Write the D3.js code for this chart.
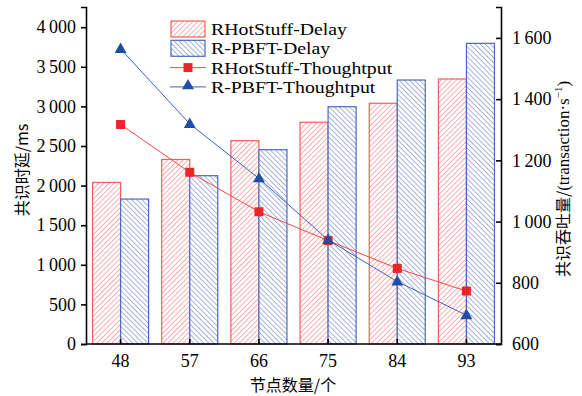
<!DOCTYPE html>
<html>
<head>
<meta charset="utf-8">
<script src="https://cdn.jsdelivr.net/npm/d3@7"></script>
<style>
  html, body { margin: 0; padding: 0; background: #fff; }
  svg { display: block; }
  text { font-family: "Liberation Serif", "DejaVu Serif", serif; }
  .cjk { font-family: "Noto Sans CJK SC", sans-serif; }
</style>
</head>
<body>
<svg id="chart" width="582" height="396"></svg>
<script>
  'use strict';

  const nodes = ['48', '57', '66', '75', '84', '93'];
  const hotDelay = [2040, 2330, 2567, 2800, 3040, 3346];
  const pbftDelay = [1830, 2125, 2453, 2996, 3333, 3796];
  const hotTput = [1317, 1161, 1032, 938, 847, 773];
  const pbftTput = [1564, 1319, 1141, 940, 804, 694];
  const leftTicks = [0, 500, 1000, 1500, 2000, 2500, 3000, 3500, 4000];
  const rightTicks = [600, 800, 1000, 1200, 1400, 1600];

  const RED = '#f0605a';
  const BLUE = '#4a68c0';

  const svg = d3.select('#chart');
  const margin = { top: 7, right: 81, bottom: 52, left: 86 };
  const width = 582, height = 396;
  const innerW = width - margin.left - margin.right;
  const innerH = height - margin.top - margin.bottom;

  const defs = svg.append('defs');
  function hatch(id, color, dir) {
    const p = defs.append('pattern')
      .attr('id', id)
      .attr('patternUnits', 'userSpaceOnUse')
      .attr('width', 3.6).attr('height', 3.6)
      .attr('patternTransform', 'rotate(' + dir + ')');
    p.append('rect').attr('width', 3.6).attr('height', 3.6).attr('fill', '#fff');
    p.append('line').attr('x1', 0).attr('y1', 0).attr('x2', 0).attr('y2', 3.6)
      .attr('stroke', color).attr('stroke-width', 1);
  }
  hatch('hRed', RED, 45);
  hatch('hBlue', BLUE, -45);

  const g = svg.append('g').attr('transform', 'translate(' + margin.left + ',' + margin.top + ')');

  const x = d3.scaleBand().domain(nodes).range([0, innerW]).paddingInner(0.19).paddingOuter(0.095);
  const xs = d3.scaleBand().domain(['hot', 'pbft']).range([0, x.bandwidth()]);
  const xc = d3.scaleBand().domain(nodes).range([0, innerW]);
  const yL = d3.scaleLinear().domain([0, 4255]).range([innerH, 0]);
  const yR = d3.scaleLinear().domain([600, 1701]).range([innerH, 0]);

  const bars = [];
  nodes.forEach(function (n, i) {
    bars.push({ node: n, key: 'hot', v: hotDelay[i] });
    bars.push({ node: n, key: 'pbft', v: pbftDelay[i] });
  });

  g.append('g').selectAll('rect')
    .data(bars)
    .join('rect')
    .attr('x', function (d) { return xc(d.node) + xc.bandwidth() / 2 - x.bandwidth() / 2 + xs(d.key); })
    .attr('y', function (d) { return yL(d.v); })
    .attr('width', xs.bandwidth())
    .attr('height', function (d) { return innerH - yL(d.v); })
    .attr('fill', function (d) { return d.key === 'hot' ? 'url(#hRed)' : 'url(#hBlue)'; })
    .attr('stroke', function (d) { return d.key === 'hot' ? RED : BLUE; })
    .attr('stroke-width', 1.2);

  const cx = function (i) { return xc(nodes[i]) + xc.bandwidth() / 2; };
  const line = d3.line()
    .x(function (d, i) { return cx(i); })
    .y(function (d) { return yR(d); });

  g.append('path').datum(hotTput).attr('d', line)
    .attr('fill', 'none').attr('stroke', '#f04a44').attr('stroke-width', 1);
  g.append('path').datum(pbftTput).attr('d', line)
    .attr('fill', 'none').attr('stroke', '#3d5fbd').attr('stroke-width', 1);

  g.append('g').selectAll('rect')
    .data(hotTput)
    .join('rect')
    .attr('x', function (d, i) { return cx(i) - 4.5; })
    .attr('y', function (d) { return yR(d) - 4.5; })
    .attr('width', 9).attr('height', 9)
    .attr('fill', '#e8262a');

  const tri = d3.symbol().type(d3.symbolTriangle).size(62);
  g.append('g').selectAll('path')
    .data(pbftTput)
    .join('path')
    .attr('transform', function (d, i) { return 'translate(' + cx(i) + ',' + (yR(d) + 0.5) + ')'; })
    .attr('d', tri)
    .attr('fill', '#1f4ea6');

  // axes
  const fmt = function (v) {
    const s = String(v);
    return s.length > 3 ? s.slice(0, s.length - 3) + '\u2009' + s.slice(s.length - 3) : s;
  };
  const axL = g.append('g')
    .call(d3.axisLeft(yL).tickValues(leftTicks).tickSize(5).tickPadding(5).tickFormat(fmt));
  const axR = g.append('g').attr('transform', 'translate(' + innerW + ',0)')
    .call(d3.axisRight(yR).tickValues(rightTicks).tickSize(-5).tickPadding(11).tickFormat(fmt));
  const axB = g.append('g').attr('transform', 'translate(0,' + innerH + ')')
    .call(d3.axisBottom(xc).tickSize(-5).tickPadding(10));
  [axL, axR, axB].forEach(function (a) {
    a.select('.domain').attr('stroke', '#000').attr('stroke-width', 1.6);
    a.selectAll('.tick line').attr('stroke', '#000').attr('stroke-width', 1.6);
    a.selectAll('.tick text').attr('fill', '#000').style('font-size', '18px')
      .style('font-family', '"Liberation Serif", serif');
  });
  axB.select('.domain').attr('d', 'M0,0H' + innerW);

  // titles
  svg.append('text').attr('class', 'cjk')
    .attr('transform', 'translate(28,' + 170 + ') rotate(-90)')
    .attr('text-anchor', 'middle').style('font-size', '16px').attr('fill', '#000')
    .text('共识时延/ms');
  const rt = svg.append('text')
    .attr('transform', 'translate(569,' + 179 + ') rotate(-90)')
    .attr('text-anchor', 'middle').style('font-size', '16px').attr('fill', '#000');
  rt.append('tspan').attr('class', 'cjk').text('共识吞吐量/');
  rt.append('tspan').style('font-size', '17px').text('(transaction·s');
  rt.append('tspan').style('font-size', '11px').attr('dy', -7).text('−1');
  rt.append('tspan').style('font-size', '17px').attr('dy', 7).text(')');
  svg.append('text').attr('class', 'cjk')
    .attr('x', 293).attr('y', 391)
    .attr('text-anchor', 'middle').style('font-size', '16px').attr('fill', '#000')
    .text('节点数量/个');

  // legend
  const legend = [
    { name: 'RHotStuff-Delay', type: 'bar', fill: 'url(#hRed)', color: RED },
    { name: 'R-PBFT-Delay', type: 'bar', fill: 'url(#hBlue)', color: BLUE },
    { name: 'RHotStuff-Thoughtput', type: 'sq', color: '#e8262a', lc: '#f04a44' },
    { name: 'R-PBFT-Thoughtput', type: 'tri', color: '#1f4ea6', lc: '#3d5fbd' }
  ];
  const lg = svg.append('g');
  legend.forEach(function (d, i) {
    const yy = 29 + i * 19.3;
    if (d.type === 'bar') {
      lg.append('rect').attr('x', 171).attr('y', yy - 8).attr('width', 34).attr('height', 16)
        .attr('fill', d.fill).attr('stroke', d.color).attr('stroke-width', 1.2);
    } else {
      lg.append('line').attr('x1', 170).attr('x2', 206).attr('y1', yy).attr('y2', yy)
        .attr('stroke', d.lc).attr('stroke-width', 1);
      if (d.type === 'sq') {
        lg.append('rect').attr('x', 183.5).attr('y', yy - 4.5).attr('width', 9).attr('height', 9).attr('fill', d.color);
      } else {
        lg.append('path').attr('d', tri).attr('transform', 'translate(188,' + (yy - 1) + ')').attr('fill', d.color);
      }
    }
    const t = lg.append('text').attr('x', 211).attr('y', yy + 6).style('font-size', '16.5px')
      .attr('fill', '#000').text(d.name);
    // widen glyphs a bit, the original face is broader than Liberation Serif
    const w = t.node().getComputedTextLength();
    t.attr('textLength', w * 1.2).attr('lengthAdjust', 'spacingAndGlyphs');
  });
</script>
</body>
</html>
